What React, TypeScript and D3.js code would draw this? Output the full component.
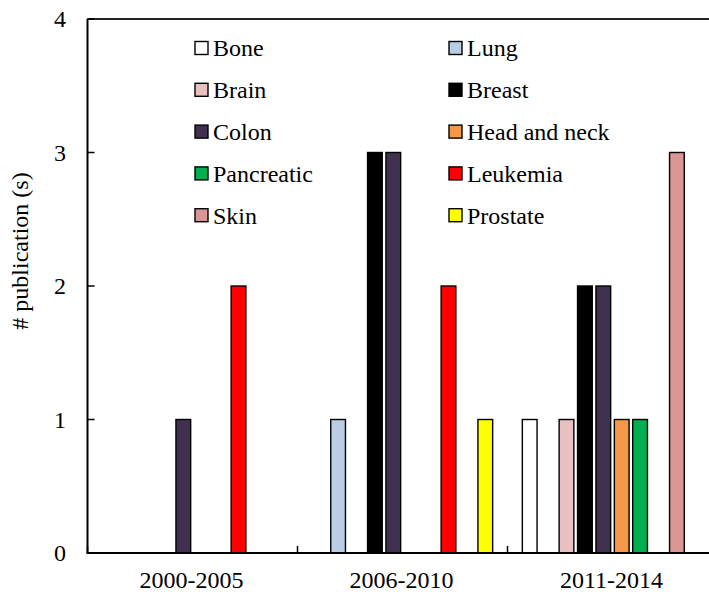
import React from 'react';
import * as d3 from 'd3';

const periods = ['2000-2005', '2006-2010', '2011-2014'];
const cancers = ['Bone', 'Lung', 'Brain', 'Breast', 'Colon', 'Head and neck', 'Pancreatic', 'Leukemia', 'Skin', 'Prostate'];
const colors = ['#ffffff', '#b9cde5', '#e8c0c0', '#000000', '#403151', '#f79646', '#00b050', '#ff0000', '#d99694', '#ffff00'];

// publications per cancer type, one value per period
const bone = [0, 0, 1];
const lung = [0, 1, 0];
const brain = [0, 0, 1];
const breast = [0, 3, 2];
const colon = [1, 3, 2];
const headNeck = [0, 0, 1];
const pancreatic = [0, 0, 1];
const leukemia = [2, 2, 0];
const skin = [0, 0, 3];
const prostate = [0, 1, 0];
const series = [bone, lung, brain, breast, colon, headNeck, pancreatic, leukemia, skin, prostate];

const yTicks = [0, 1, 2, 3, 4];

const W = 709;
const H = 592;
const FONT = "'Liberation Serif', Tinos, 'Times New Roman', Times, 'DejaVu Serif', serif";

export default function App() {
  const left = 87.5;
  const right = 717.5;
  const top = 19;
  const bottom = 553;

  const x = d3.scaleBand<string>().domain(periods).range([left, right]).padding(0);
  const inner = d3.scaleBand<string>().domain(cancers).range([13, x.bandwidth() - 13]).paddingInner(0.2).paddingOuter(0.1);
  const y = d3.scaleLinear().domain([0, 4]).range([bottom, top]);

  const bars: { key: string; x: number; y: number; w: number; h: number; fill: string }[] = [];
  series.forEach((vals, si) => {
    vals.forEach((v, pi) => {
      if (!v) return;
      const bx = (x(periods[pi]) ?? 0) + (inner(cancers[si]) ?? 0);
      bars.push({ key: `${si}-${pi}`, x: bx, y: y(v), w: inner.bandwidth(), h: y(0) - y(v), fill: colors[si] });
    });
  });

  const boundaries = periods.map((p) => x(p) ?? 0).concat([right]);

  return (
    <svg width={W} height={H} style={{ position: 'absolute', left: 0, top: 0, background: '#fff', fontFamily: FONT }}>
      {/* bars */}
      {bars.map((b) => (
        <rect key={b.key} x={b.x} y={b.y} width={b.w} height={b.h} fill={b.fill} stroke="#000" strokeWidth={1.4} />
      ))}

      {/* plot frame top */}
      <line x1={left} x2={W} y1={top} y2={top} stroke="#222" strokeWidth={2} />

      {/* y axis */}
      <line x1={left} x2={left} y1={top} y2={bottom} stroke="#000" strokeWidth={2} />
      {yTicks.map((t) => (
        <g key={t}>
          <line x1={left} x2={left + 7} y1={y(t)} y2={y(t)} stroke="#000" strokeWidth={1.5} />
          <text x={66} y={y(t)} dy="0.35em" textAnchor="end" fontSize={24}>
            {t}
          </text>
        </g>
      ))}
      <text transform={`translate(28,251) rotate(-90)`} textAnchor="middle" fontSize={24}>
        # publication (s)
      </text>

      {/* x axis */}
      <line x1={left - 1} x2={W} y1={bottom} y2={bottom} stroke="#000" strokeWidth={2} />
      {boundaries.map((bx, i) => (
        <line key={i} x1={bx} x2={bx} y1={bottom} y2={bottom - 7} stroke="#000" strokeWidth={1.5} />
      ))}
      {periods.map((p) => (
        <text key={p} x={(x(p) ?? 0) + x.bandwidth() / 2 - 1} y={588} textAnchor="middle" fontSize={24}>
          {p}
        </text>
      ))}

      {/* legend */}
      {cancers.map((c, i) => {
        const col = i % 2;
        const row = Math.floor(i / 2);
        const sx = col === 0 ? 195 : 449;
        const cy = 48 + row * 41.8;
        return (
          <g key={c}>
            <rect x={sx} y={cy - 6.5} width={13} height={13} fill={colors[i]} stroke="#000" strokeWidth={1.4} />
            <text x={sx + 18} y={cy} dy="0.35em" fontSize={24}>
              {c}
            </text>
          </g>
        );
      })}
    </svg>
  );
}
